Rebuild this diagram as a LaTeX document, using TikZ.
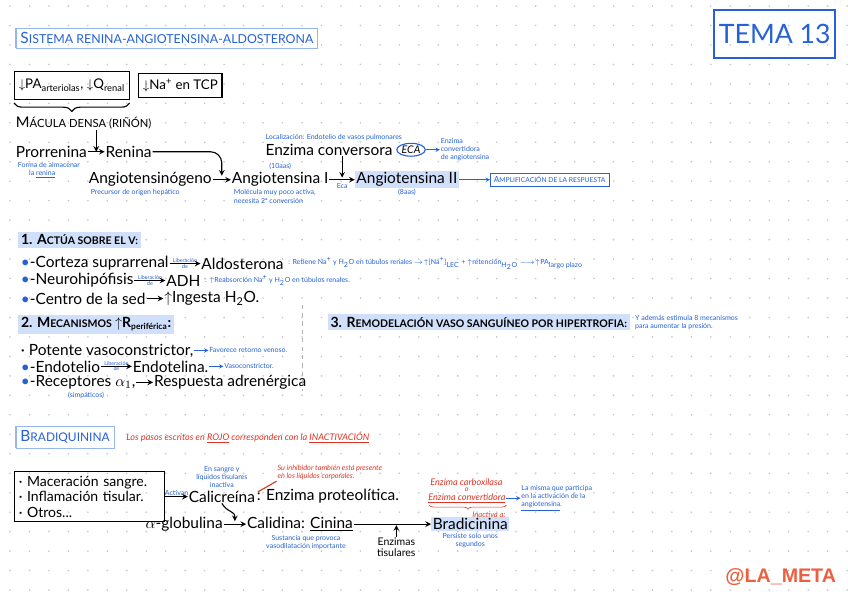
\documentclass[tikz,border=0pt]{standalone}
\usepackage{fontspec}
\setmainfont{Lato}
\newfontfamily\signfont{Liberation Sans}
\usetikzlibrary{positioning,calc,shapes.geometric,decorations.pathreplacing}
\definecolor{inkblue}{RGB}{38,98,214}
\definecolor{inkred}{RGB}{226,52,36}
\definecolor{marker}{RGB}{208,224,250}
\definecolor{framelight}{RGB}{150,182,238}
\definecolor{dotgray}{RGB}{196,198,204}
\definecolor{signred}{RGB}{236,96,64}
\newcommand\smc[2][6.5]{{\fontsize{#1}{#1}\selectfont #2}}
\newcommand\bul{{\color{inkblue}\textbullet}-}

\begin{document}
\begin{tikzpicture}[x=0.025cm, y=-0.025cm,
  txt/.style={font=\fontsize{11}{12.5}\selectfont, inner sep=0.5pt, anchor=west},
  note/.style={font=\fontsize{5}{5.8}\selectfont, text=inkblue, inner sep=0.5pt, align=left, anchor=west},
  tiny/.style={note, font=\fontsize{3.8}{4}\selectfont, inner sep=0pt},
  rednote/.style={note, text=inkred, font=\itshape\fontsize{6.5}{7.2}\selectfont},
  heading/.style={font=\bfseries\fontsize{10}{12}\selectfont, fill=marker, inner sep=2pt, anchor=west},
  framed/.style={draw=framelight, text=inkblue, inner sep=3pt, anchor=west},
  conn/.style={-stealth, thick},
  blueconn/.style={-stealth, inkblue},
]
% fondo punteado
\fill[white] (0,0) rectangle (848,601);
\foreach \gx in {0,...,43}
  \foreach \gy in {0,...,30}
    \fill[dotgray] (10+19.5*\gx, 6+19.5*\gy) circle (0.9);
\useasboundingbox (0,0) rectangle (848,601);

% cabecera
\node[framed] (sistema) at (16,38) {\smc[11]{S}\smc[8.8]{ISTEMA RENINA-ANGIOTENSINA-ALDOSTERONA}};
\draw[framelight, line width=1.6pt] (sistema.north west) -- (sistema.south west);
\node[draw=inkblue, line width=1.2pt, text=inkblue, minimum width=2.95cm, minimum height=1.2cm,
  font=\fontsize{19}{20}\selectfont] (tema) at (776,34) {TEMA 13};

% estimulos
\node[draw, thick, txt, anchor=north west, inner sep=3pt, minimum height=0.7cm,
  font=\fontsize{9.5}{10}\selectfont] (caida) at (14,71) {$\downarrow$PA\textsubscript{arteriolas}, $\downarrow$Q\textsubscript{renal}};
\node[draw, thick, txt, inner sep=3pt, minimum height=0.6cm, font=\fontsize{9.5}{10}\selectfont,
  right=6pt of caida] (sodio) {$\downarrow$Na\textsuperscript{+} en TCP};
\draw[thick, decorate, decoration={brace, mirror, amplitude=6pt}]
  ($(caida.south west)+(0,3)$) -- ($(caida.south east)+(0,3)$);
\node[txt] (macula) at (15,123) {\smc[10.5]{M}\smc[8]{ÁCULA DENSA (RIÑÓN)}};

% cascada renina-angiotensina
\node[txt] (prorrenina) at (15,152) {Prorrenina};
\node[txt, right=12pt of prorrenina] (renina) {Renina};
\coordinate (pr) at ($(prorrenina.east)!.5!(renina.west)$);
\draw[conn] (prorrenina) -- (renina);
\draw[conn] (macula.south -| pr) -- (pr);
\node[note, anchor=north west] (almacen) at ($(prorrenina.south west)+(2,3)$) {Forma de almacenar\\\hspace{8pt}la \underline{renina}};

\node[txt] (angiogeno) at (88,180) {Angiotensinógeno};
\node[txt, right=13pt of angiogeno] (angioI) {Angiotensina I};
\node[note, anchor=north west] (hepatico) at ($(angiogeno.south west)+(2,1)$) {Precursor de origen hepático};
\coordinate (ga) at ($(angiogeno.east)!.5!(angioI.west)$);
\draw[conn] (angiogeno) -- (angioI);
\draw[conn, rounded corners=8pt] (renina.east) -| ($(ga)+(0,-4)$);
\node[note, above=1pt of angioI] (diezaa) {(10aas)};
\node[note, anchor=north west] (pocoactiva) at ($(angioI.south west)+(2,1)$) {Molécula muy poco activa,\\necesita 2ª conversión};

\node[txt] (enzima) at (265,150) {Enzima conversora};
\node[note, anchor=south west] (pulmon) at ($(enzima.north west)+(0,-1)$) {Localización: Endotelio de vasos pulmonares};
\node[ellipse, draw=inkblue, thick, inner sep=0.5pt, font=\itshape\fontsize{7.5}{8}\selectfont,
  right=2pt of enzima] (eca) {ECA};
\node[note, right=10pt of eca] (ecatxt) {Enzima\\convertidora\\de angiotensina};
\draw[blueconn] (eca) -- (ecatxt);

\node[txt, fill=marker, inner sep=1pt, right=18pt of angioI] (angioII) {Angiotensina II};
\coordinate (ia) at ($(angioI.east)!.5!(angioII.west)$);
\draw[conn] (angioI) -- (angioII);
\draw[conn] (enzima.south -| ia) -- ($(ia)+(0,-2)$);
\node[note, below=2pt of ia] (ecamini) {Eca};
\node[note, below=0pt of angioII] (ochoaa) {(8aas)};
\node[framed, draw=inkblue, inner sep=2.5pt, right=22pt of angioII] (amplif) {\smc[6]{A}\smc[4.8]{MPLIFICACIÓN DE LA RESPUESTA}};
\draw[blueconn] (angioII) -- (amplif);

% 1. volumen
\node[heading] (actua) at (18,240) {1. \smc[10]{A}\smc[7.5]{CTÚA SOBRE EL V:}};
\node[txt] (corteza) at (20,264) {\bul Corteza suprarrenal};
\node[txt, right=22pt of corteza] (aldo) {Aldosterona};
\draw[conn] (corteza) -- node[tiny, anchor=south]{Liberación} node[tiny, anchor=north]{de} (aldo);
\node[note, right=2pt of aldo] (retiene) {: Retiene Na\textsuperscript{+} y H\textsubscript{2}O en túbulos renales $\rightarrow\uparrow$[Na\textsuperscript{+}]\textsubscript{LEC} + $\uparrow$retención\textsubscript{H\textsubscript{2}O} $\longrightarrow\uparrow$PA\textsubscript{largo plazo}};
\node[txt] (neuro) at (20,281) {\bul Neurohipófisis};
\node[txt, right=22pt of neuro] (adh) {ADH};
\draw[conn] (neuro) -- node[tiny, anchor=south]{Liberación} node[tiny, anchor=north]{de} (adh);
\node[note, right=2pt of adh] (reabs) {: $\uparrow$Reabsorción Na\textsuperscript{+} y H\textsubscript{2}O en túbulos renales.};
\node[txt] (sed) at (20,299) {\bul Centro de la sed};
\node[txt, right=12pt of sed] (ingesta) {\smash{$\uparrow$}Ingesta H\textsubscript{2}O.};
\draw[conn] (sed) -- (ingesta);

% 2. resistencia periferica
\node[heading] (mecanismos) at (18,325) {2. \smc[10]{M}\smc[7.5]{ECANISMOS} $\uparrow$R\textsubscript{\smc[6]{periférica}}:};
\node[txt] (potente) at (20,351) {· Potente vasoconstrictor,};
\node[note, right=10pt of potente] (retorno) {Favorece retorno venoso.};
\draw[blueconn] (potente) -- (retorno);
\node[txt] (endotelio) at (20,367) {\bul Endotelio};
\node[txt, right=22pt of endotelio] (endotelina) {Endotelina.};
\draw[conn] (endotelio) -- node[tiny, anchor=south]{Liberación} node[tiny, anchor=north]{de} (endotelina);
\node[note, right=10pt of endotelina] (vasocon) {Vasoconstrictor.};
\draw[blueconn] (endotelina) -- (vasocon);
\node[txt] (receptores) at (20,383) {\bul Receptores $\alpha_1$,};
\node[txt, right=12pt of receptores] (adrenergica) {Respuesta adrenérgica};
\draw[conn] (receptores) -- (adrenergica);
\node[note, anchor=north] (simpaticos) at ($(receptores.south)+(8,1)$) {(simpáticos)};
\draw[dashed, gray!60] (303,305) -- (303,392);

% 3. remodelacion
\node[heading] (remodelacion) at (328,323) {3. \smc[10]{R}\smc[7.5]{EMODELACIÓN VASO SANGUÍNEO POR HIPERTROFIA:}};
\node[note, right=3pt of remodelacion] (ademas) {Y además estimula 8 mecanismos\\para aumentar la presión.};

% bradiquinina
\node[framed] (bradiq) at (16,438) {\smc[11]{B}\smc[8.5]{RADIQUININA}};
\draw[framelight, line width=1.6pt] (bradiq.north west) -- (bradiq.south west);
\node[rednote, right=8pt of bradiq] (pasos) {Los pasos escritos en \underline{ROJO} corresponden con la \underline{INACTIVACIÓN}};

\node[draw, thick, txt, anchor=north west, align=left, inner sep=3pt, text width=3.55cm,
  font=\fontsize{10}{11}\selectfont] (causas) at (14,472) {· Maceración sangre.\\· Inflamación tisular.\\· Otros...};
\node[txt, right=16pt of causas] (calicreina) {Calicreína};
\node[txt, right=0pt of calicreina] (proteolitica) {: Enzima proteolítica.};
\draw[conn] (causas) -- node[note, anchor=south]{Activan} (calicreina);
\node[note, align=center, anchor=south] (inactivaen) at ($(calicreina.north)+(0,-1)$) {En sangre y\\líquidos tisulares\\inactiva};
\node[rednote, font=\itshape\fontsize{5.2}{6}\selectfont, anchor=south west] (inhibidor) at (277,482) {Su inhibidor también está presente\\en los líquidos corporales.};
\draw[inkred, thick] ($(calicreina.north east)+(2,2)$) -- (inhibidor.south west);

\node[txt] (globulina) at (145,525) {$\alpha$-globulina};
\node[txt, right=16pt of globulina] (calidina) {Calidina: \underline{Cinina}};
\coordinate (gc) at ($(globulina.east)!.5!(calidina.west)$);
\draw[conn] (globulina) -- (calidina);
\draw[conn] (calicreina.south) .. controls ($(calicreina.south)+(6,10)$) and ($(gc)+(0,-14)$) .. ($(gc)+(0,-3)$);
\node[note, align=center, anchor=north] (vasodil) at ($(calidina.south)+(6,2)$) {Sustancia que provoca\\vasodilatación importante};

\node[txt, fill=marker, inner sep=1pt, right=55pt of calidina] (bradi) {Bradicinina};
\coordinate (ct) at ($(calidina.east)!.55!(bradi.west)$);
\draw[conn] (calidina) -- (bradi);
\node[txt, font=\fontsize{7.5}{8}\selectfont, align=center, below=9pt of ct] (tisulares) {Enzimas\\tisulares};
\draw[conn] (tisulares.north) -- ($(ct)+(0,1)$);
\node[note, align=center, anchor=north] (persiste) at ($(bradi.south)+(0,1)$) {Persiste solo unos\\segundos};

\node[rednote] (carboxi) at (430,483) {Enzima carboxilasa};
\node[rednote] (convert) at (428,499) {\underline{Enzima convertidora}};
\node[rednote, font=\itshape\fontsize{5}{5}\selectfont, anchor=center] (ocarb) at ($(carboxi.south)!.5!(convert.north)$) {o};
\draw[inkred, decorate, decoration={brace, mirror, amplitude=3pt}]
  ($(convert.south west)+(2,1)$) -- ($(convert.south east)+(0,1)$);
\node[rednote, font=\itshape\fontsize{5.5}{6}\selectfont, anchor=north east] (inactiva) at ($(convert.south east)+(0,7)$) {Inactiva a:};
\node[note, right=10pt of convert] (misma) {La misma que participa\\en la activación de la\\\underline{angiotensina}.};
\draw[blueconn] (convert) -- (misma);

\node[font=\signfont\bfseries\fontsize{14}{16}\selectfont, text=signred] (firma) at (782,578) {@LA\_META};
\end{tikzpicture}
\end{document}
